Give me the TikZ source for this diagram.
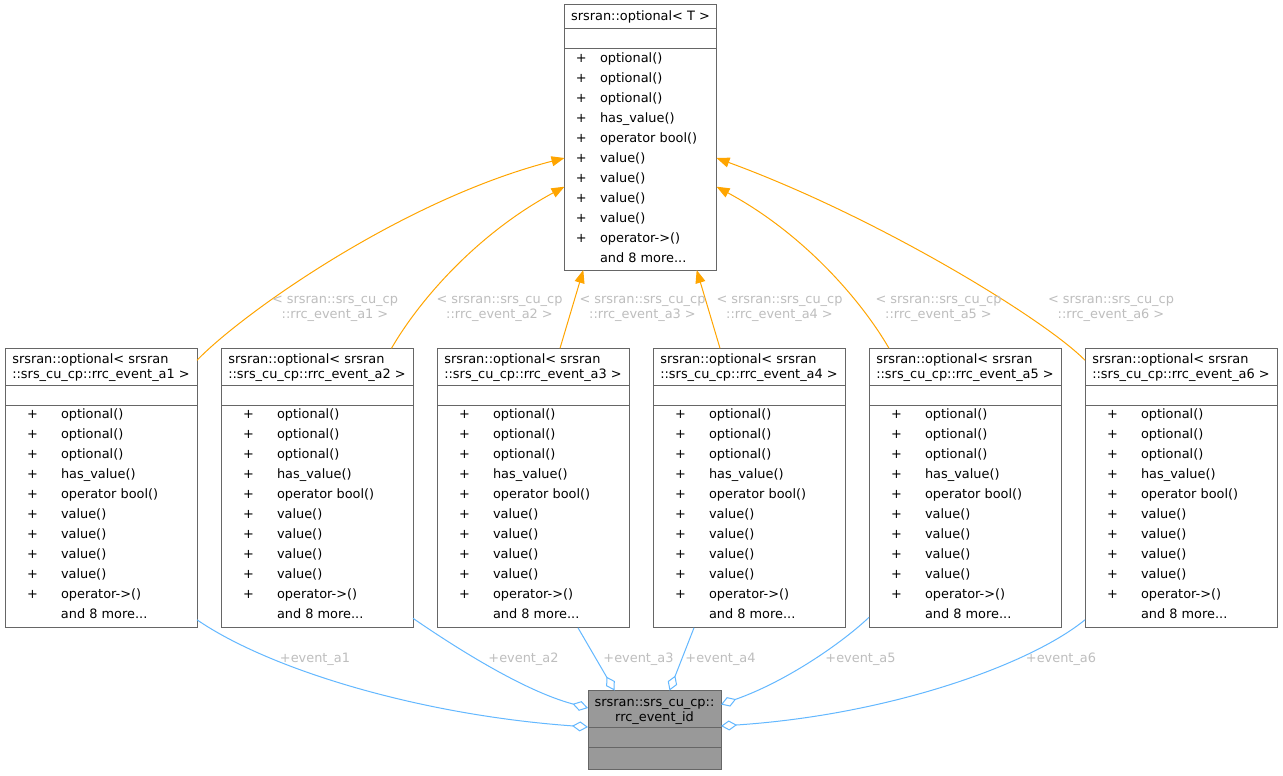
\documentclass[tikz,border=0pt]{standalone}
\usepackage{fontspec}
\setmainfont{DejaVu Sans}
\usetikzlibrary{positioning,shapes.multipart,arrows.meta}

\definecolor{boxline}{HTML}{666666}
\definecolor{boxfill}{HTML}{999999}
\definecolor{inheritcol}{HTML}{FFA500}
\definecolor{usecol}{HTML}{63B8FF}
\definecolor{labelcol}{HTML}{BEBEBE}

\newlength{\plusx}
\newlength{\namex}
\newcommand{\mrow}[1]{\makebox[0pt][l]{\hspace*{\plusx}+}\hspace*{\namex}#1\\}
\newcommand{\optmembers}[5]{\parbox[b][#2][t]{#1}{\setlength{\plusx}{#3}\setlength{\namex}{#4}\baselineskip=20pt
  \rule{0pt}{#5}\mrow{optional()}\mrow{optional()}\mrow{optional()}\mrow{has\_value()}%
  \mrow{operator bool()}\mrow{value()}\mrow{value()}\mrow{value()}\mrow{value()}%
  \mrow{operator->()}\hspace*{\namex}and 8 more...}}
\newcommand{\gap}[2]{\parbox[b][#2][t]{#1}{\mbox{}}}
\newcommand{\tname}[1]{\parbox[b][36.5pt][t]{192pt}{\centering\rule{0pt}{15pt}%
  \begin{tabular}[t]{@{}l@{}}srsran::optional< srsran\\::srs\_cu\_cp::rrc\_event\_#1 >\end{tabular}}}

\begin{document}
\begin{tikzpicture}[x=1pt,y=-1pt]
\tikzstyle{cls}=[rectangle split, rectangle split parts=3, draw=boxline, line width=1pt, fill=white, inner sep=0pt, outer sep=0pt, font=\fontsize{12.9}{15}\selectfont]
\tikzstyle{inherit}=[color=inheritcol, line width=1pt, -{Triangle[length=13pt,width=10pt]}]
\tikzstyle{agg}=[color=usecol, line width=1pt, {Diamond[open,length=16pt,width=10pt]}-]
\tikzstyle{elabel}=[text=labelcol, align=center, inner sep=0pt, font=\fontsize{12.9}{15}\selectfont]

\path[use as bounding box, fill=white] (0,0) rectangle (1283,776);

% 1. Classes
%%%%%%%%%%%%
\node[cls, anchor=north west] (T) at (564.5,5) {\parbox[b][22.5pt][t]{152pt}{\centering\rule{0pt}{15pt}srsran::optional< T >}%
  \nodepart{two}\gap{152pt}{19pt}\nodepart{three}\optmembers{152pt}{220.5pt}{11.3pt}{35.5pt}{13pt}};

\node[cls, anchor=north west] (B1) at (5,348.3) {\tname{a1}\nodepart{two}\gap{192pt}{19pt}\nodepart{three}\optmembers{192pt}{221pt}{22.1pt}{56pt}{12.5pt}};
\node[cls] (B2) [right=24pt of B1] {\tname{a2}\nodepart{two}\gap{192pt}{19pt}\nodepart{three}\optmembers{192pt}{221pt}{22.1pt}{56pt}{12.5pt}};
\node[cls] (B3) [right=24pt of B2] {\tname{a3}\nodepart{two}\gap{192pt}{19pt}\nodepart{three}\optmembers{192pt}{221pt}{22.1pt}{56pt}{12.5pt}};
\node[cls] (B4) [right=24pt of B3] {\tname{a4}\nodepart{two}\gap{192pt}{19pt}\nodepart{three}\optmembers{192pt}{221pt}{22.1pt}{56pt}{12.5pt}};
\node[cls] (B5) [right=24pt of B4] {\tname{a5}\nodepart{two}\gap{192pt}{19pt}\nodepart{three}\optmembers{192pt}{221pt}{22.1pt}{56pt}{12.5pt}};
\node[cls] (B6) [right=24pt of B5] {\tname{a6}\nodepart{two}\gap{192pt}{19pt}\nodepart{three}\optmembers{192pt}{221pt}{22.1pt}{56pt}{12.5pt}};

\node[cls, fill=boxfill, anchor=north west] (rid) at (588,690.5) {\parbox[b][36pt][t]{133pt}{\centering\rule{0pt}{15pt}srsran::srs\_cu\_cp::\\rrc\_event\_id}%
  \nodepart{two}\gap{133pt}{19pt}\nodepart{three}\gap{133pt}{21pt}};

% 2. Inheritance arrows
%%%%%%%%%%%%%%%%%%%%%%%
\draw[inherit] ([yshift=-12pt]B1.north east) .. controls +(43,-45) and +(-163.5,42) .. ([yshift=-153pt]T.north west);
\draw[inherit] ([xshift=-21.5pt]B2.north east) .. controls +(26.5,-46) and +(-89.5,48.3) .. ([yshift=-181.7pt]T.north west);
\draw[inherit] ([xshift=27pt]B3.north) -- ([xshift=-57.2pt]T.south);
\draw[inherit] ([xshift=-29pt]B4.north) -- ([xshift=56.2pt]T.south);
\draw[inherit] ([xshift=20pt]B5.north west) .. controls +(-26,-45) and +(89.5,48.3) .. ([yshift=-181.7pt]T.north east);
\draw[inherit] ([yshift=-12pt]B6.north west) .. controls +(-39,-40) and +(163.5,60) .. ([yshift=-153pt]T.north east);

\node[elabel] (l1) at (335,308.3) {< srsran::srs\_cu\_cp\\::rrc\_event\_a1 >};
\node[elabel] (l2) at (499.5,308.3) {< srsran::srs\_cu\_cp\\::rrc\_event\_a2 >};
\node[elabel] (l3) at (642.5,308.3) {< srsran::srs\_cu\_cp\\::rrc\_event\_a3 >};
\node[elabel] (l4) at (779.5,308.3) {< srsran::srs\_cu\_cp\\::rrc\_event\_a4 >};
\node[elabel] (l5) at (938.5,308.3) {< srsran::srs\_cu\_cp\\::rrc\_event\_a5 >};
\node[elabel] (l6) at (1111,308.3) {< srsran::srs\_cu\_cp\\::rrc\_event\_a6 >};

% 3. Member links
%%%%%%%%%%%%%%%%%
\draw[agg] ([yshift=-36.5pt]rid.north west) .. controls +(-168,-12) and +(73,50) .. ([yshift=8pt]B1.south east);
\draw[agg] ([yshift=-17.5pt]rid.north west) .. controls +(-68,-18) and +(32,22) .. ([yshift=9.5pt]B2.south east);
\draw[agg] ([xshift=26.5pt]rid.north west) -- ([xshift=45pt]B3.south);
\draw[agg] ([xshift=81.5pt]rid.north west) -- ([xshift=-55pt]B4.south);
\draw[agg] ([yshift=-14pt]rid.north east) .. controls +(68,-24) and +(-24,23) .. ([yshift=10.5pt]B5.south west);
\draw[agg] ([yshift=-35.5pt]rid.north east) .. controls +(168,-11) and +(-55,45) .. ([yshift=8pt]B6.south west);

\node[elabel] (e1) at (315,659) {+event\_a1};
\node[elabel] (e2) at (523.5,659) {+event\_a2};
\node[elabel] (e3) at (638.5,659) {+event\_a3};
\node[elabel] (e4) at (720.5,659) {+event\_a4};
\node[elabel] (e5) at (860.5,659) {+event\_a5};
\node[elabel] (e6) at (1061,659) {+event\_a6};

\end{tikzpicture}
\end{document}
